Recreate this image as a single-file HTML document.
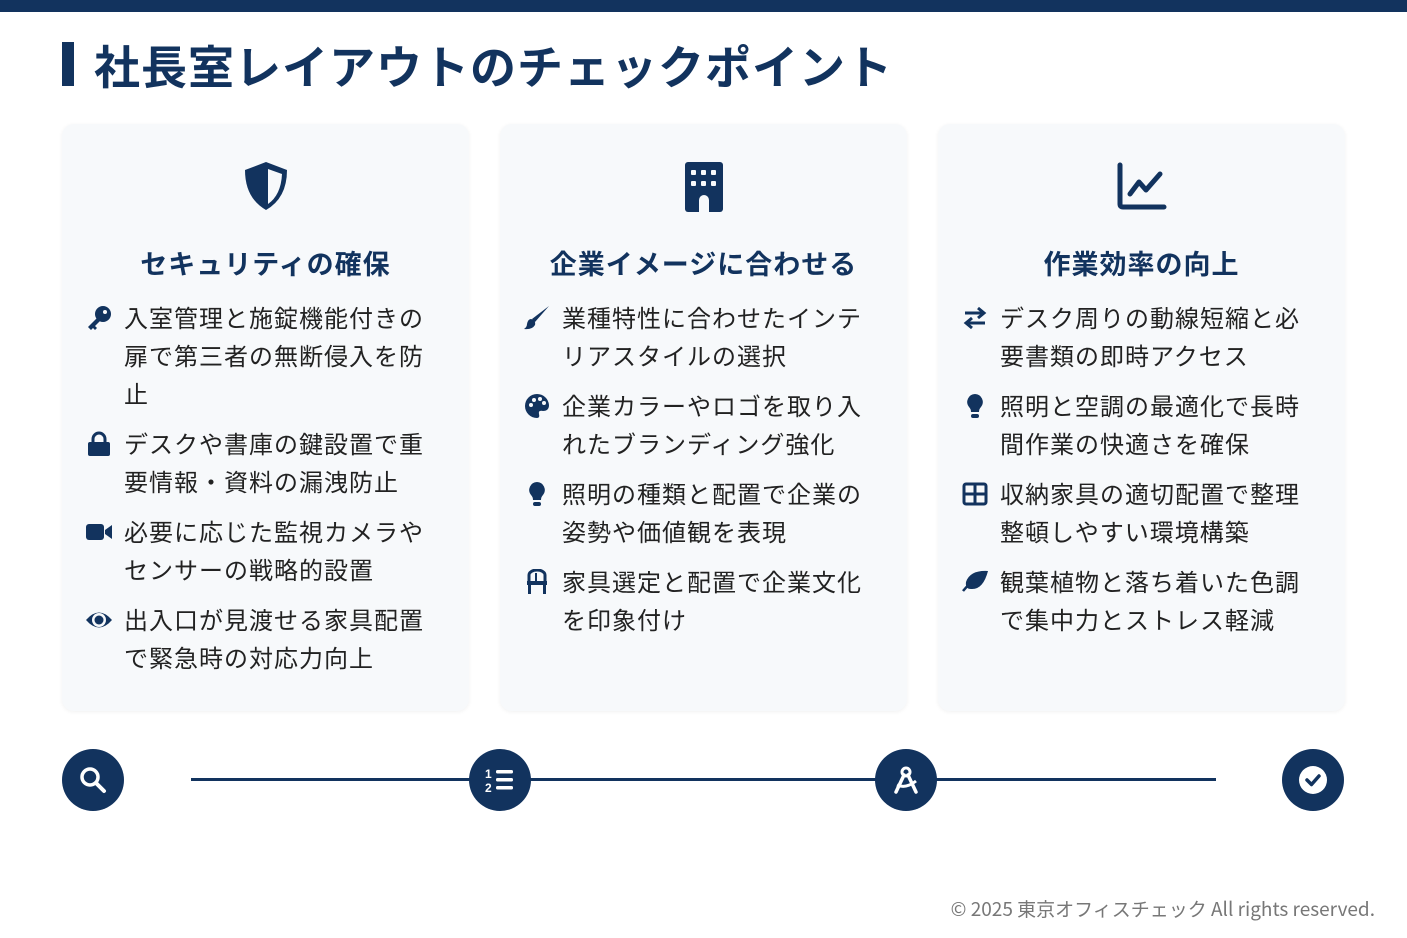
<!DOCTYPE html>
<html><head><meta charset="utf-8"><style>
*{margin:0;padding:0;box-sizing:border-box}
body{width:1407px;height:938px;background:#fff;position:relative;overflow:hidden;font-family:"Liberation Sans","Noto Sans CJK JP",sans-serif;color:#222}
.top{position:absolute;left:0;top:0;width:1407px;height:12px;background:#12335e}
.tb{position:absolute;left:62px;top:42px;width:12px;height:44px;background:#12335e}
h1{position:absolute;left:94px;top:37px;font-size:46px;font-weight:700;color:#12335e;letter-spacing:1px;line-height:62px}
.card{position:absolute;top:124px;width:407px;height:587px;background:#f7f9fb;border-radius:12px;box-shadow:0 1px 4px rgba(0,0,0,.06)}
.ic{position:absolute;left:0;width:100%;top:36px;height:54px;display:flex;justify-content:center}
h2{position:absolute;top:121px;width:100%;text-align:center;font-size:27px;font-weight:700;color:#12335e;line-height:40px;letter-spacing:1px}
ul{position:absolute;left:24px;top:177px;list-style:none}
li{position:relative;padding-left:38px;width:350px;font-size:24px;line-height:38px;margin-bottom:12px;letter-spacing:1px}
li svg{position:absolute;left:0;top:4px;width:26px;height:26px}
.circ{position:absolute;top:749px;width:62px;height:62px;border-radius:50%;background:#12335e;display:flex;align-items:center;justify-content:center}
.line{position:absolute;left:191px;top:778px;width:1025px;height:3px;background:#12335e}
.foot{position:absolute;right:32px;top:896px;font-size:19px;color:#777;line-height:26px;font-family:"Noto Sans CJK JP",sans-serif}
</style></head><body>
<div class="top"></div><div class="tb"></div>
<h1>社長室レイアウトのチェックポイント</h1>

<div class="card" style="left:62px">
<div class="ic"><svg width="50" height="52" viewBox="0 0 50 52"><path d="M25 2 L46 10 Q46 38 25 50 Q4 38 4 10 Z" fill="#12335e"/><path d="M27 9 L41 14 Q40 35 27 44 Z" fill="#f7f9fb"/></svg></div>
<h2>セキュリティの確保</h2>
<ul>
<li><svg viewBox="0 0 26 26"><circle cx="17" cy="9" r="8" fill="#12335e"/><path d="M12 12 L2 22 L5 25 L7 23 L9 25 L11 23 L9 21 L15 15 Z" fill="#12335e"/><circle cx="19" cy="7" r="2" fill="#f7f9fb"/></svg>入室管理と施錠機能付きの扉で第三者の無断侵入を防止</li>
<li><svg viewBox="0 0 26 26"><path d="M7 11 V8 a6 6 0 0 1 12 0 V11" stroke="#12335e" stroke-width="3" fill="none"/><rect x="2" y="11" width="22" height="14" rx="2" fill="#12335e"/></svg>デスクや書庫の鍵設置で重要情報・資料の漏洩防止</li>
<li><svg viewBox="0 0 26 26"><rect x="0" y="5" width="18" height="16" rx="3" fill="#12335e"/><path d="M19 11 L26 6 V20 L19 15 Z" fill="#12335e"/></svg>必要に応じた監視カメラやセンサーの戦略的設置</li>
<li><svg viewBox="0 0 26 26"><path d="M0 13 Q13 -2 26 13 Q13 28 0 13 Z" fill="#12335e"/><circle cx="13" cy="13" r="7" fill="#f7f9fb"/><circle cx="13" cy="13" r="4.5" fill="#12335e"/></svg>出入口が見渡せる家具配置で緊急時の対応力向上</li>
</ul></div>

<div class="card" style="left:500px">
<div class="ic"><svg width="40" height="52" viewBox="0 0 40 52"><rect x="1" y="2" width="38" height="50" rx="3" fill="#12335e"/><g fill="#f7f9fb"><rect x="7" y="10" width="5" height="5" rx="1"/><rect x="17" y="10" width="5" height="5" rx="1"/><rect x="27" y="10" width="5" height="5" rx="1"/><rect x="7" y="21" width="5" height="5" rx="1"/><rect x="17" y="21" width="5" height="5" rx="1"/><rect x="27" y="21" width="5" height="5" rx="1"/><path d="M15 52 V40 a5 5 0 0 1 10 0 V52 Z"/></g></svg></div>
<h2>企業イメージに合わせる</h2>
<ul>
<li><svg viewBox="0 0 26 26"><path d="M25 1 L11 17 L8 14 Z" fill="#12335e"/><path d="M7 14 Q12 15 11 20 Q8 25 0 24 Q3 22 3 19 Q4 14 7 14 Z" fill="#12335e"/></svg>業種特性に合わせたインテリアスタイルの選択</li>
<li><svg viewBox="0 0 26 26"><path d="M13 1 A12 12 0 1 0 13 25 Q16 25 15 21 Q14 17 19 18 Q25 18 25 12 A12 12 0 0 0 13 1 Z" fill="#12335e"/><g fill="#f7f9fb"><circle cx="7" cy="12" r="2"/><circle cx="10" cy="7" r="2"/><circle cx="16" cy="6" r="2"/><circle cx="20" cy="10" r="2"/></g></svg>企業カラーやロゴを取り入れたブランディング強化</li>
<li><svg viewBox="0 0 26 26"><path d="M13 1 A8 8 0 0 0 7 14 Q9 16 9 19 H17 Q17 16 19 14 A8 8 0 0 0 13 1 Z" fill="#12335e"/><rect x="9" y="21" width="8" height="4" rx="2" fill="#12335e"/></svg>照明の種類と配置で企業の姿勢や価値観を表現</li>
<li><svg viewBox="0 0 26 26"><path d="M5 12 V6 a8 5 0 0 1 16 0 V12" stroke="#12335e" stroke-width="3" fill="none"/><rect x="3" y="12" width="20" height="4" fill="#12335e"/><rect x="4" y="16" width="3" height="9" fill="#12335e"/><rect x="19" y="16" width="3" height="9" fill="#12335e"/><rect x="11" y="4" width="2" height="8" fill="#12335e"/></svg>家具選定と配置で企業文化を印象付け</li>
</ul></div>

<div class="card" style="left:938px">
<div class="ic"><svg width="52" height="52" viewBox="0 0 52 52"><path d="M4 5 V44 Q4 47 7 47 H48" stroke="#12335e" stroke-width="5" fill="none" stroke-linecap="round"/><path d="M14 34 L23 22 L30 30 L44 14" stroke="#12335e" stroke-width="5" fill="none" stroke-linecap="round" stroke-linejoin="round"/></svg></div>
<h2>作業効率の向上</h2>
<ul>
<li><svg viewBox="0 0 26 26"><path d="M3 8 H22 M16 3 L22 8 L16 13" stroke="#12335e" stroke-width="3" fill="none"/><path d="M23 18 H4 M10 13 L4 18 L10 23" stroke="#12335e" stroke-width="3" fill="none"/></svg>デスク周りの動線短縮と必要書類の即時アクセス</li>
<li><svg viewBox="0 0 26 26"><path d="M13 1 A8 8 0 0 0 7 14 Q9 16 9 19 H17 Q17 16 19 14 A8 8 0 0 0 13 1 Z" fill="#12335e"/><rect x="9" y="21" width="8" height="4" rx="2" fill="#12335e"/></svg>照明と空調の最適化で長時間作業の快適さを確保</li>
<li><svg viewBox="0 0 26 26"><rect x="2" y="3" width="22" height="20" rx="2" stroke="#12335e" stroke-width="3" fill="none"/><path d="M13 3 V23 M2 13 H24" stroke="#12335e" stroke-width="3"/></svg>収納家具の適切配置で整理整頓しやすい環境構築</li>
<li><svg viewBox="0 0 26 26"><path d="M26 2 Q8 1 4 13 Q3 20 9 20 Q21 21 26 2 Z" fill="#12335e"/><path d="M1 22 Q8 13 18 9" stroke="#12335e" stroke-width="2.5" fill="none"/></svg>観葉植物と落ち着いた色調で集中力とストレス軽減</li>
</ul></div>

<div class="line"></div>
<div class="circ" style="left:62px"><svg width="28" height="28" viewBox="0 0 28 28"><circle cx="11" cy="11" r="8" stroke="#fff" stroke-width="3.5" fill="none"/><path d="M17 17 L25 25" stroke="#fff" stroke-width="4" stroke-linecap="round"/></svg></div>
<div class="circ" style="left:469px"><svg width="30" height="28" viewBox="0 0 30 28"><text x="0" y="12" font-size="12" font-weight="700" fill="#fff" font-family="Liberation Sans">1</text><text x="0" y="26" font-size="12" font-weight="700" fill="#fff" font-family="Liberation Sans">2</text><rect x="11" y="4" width="17" height="3.5" rx="1.5" fill="#fff"/><rect x="11" y="12" width="17" height="3.5" rx="1.5" fill="#fff"/><rect x="11" y="20" width="17" height="3.5" rx="1.5" fill="#fff"/></svg></div>
<div class="circ" style="left:875px"><svg width="30" height="30" viewBox="0 0 30 30"><circle cx="15" cy="7" r="4" stroke="#fff" stroke-width="3" fill="none"/><path d="M13 10 L5 27 M17 10 L25 27" stroke="#fff" stroke-width="3.5" stroke-linecap="round"/><path d="M6 20 Q15 24 25 16" stroke="#fff" stroke-width="3" fill="none"/></svg></div>
<div class="circ" style="left:1282px"><svg width="30" height="30" viewBox="0 0 30 30"><circle cx="15" cy="15" r="14" fill="#fff"/><path d="M9 15 L13.5 19.5 L21 11" stroke="#12335e" stroke-width="3.5" fill="none" stroke-linecap="round" stroke-linejoin="round"/></svg></div>

<div class="foot">© 2025 東京オフィスチェック All rights reserved.</div>
</body></html>
